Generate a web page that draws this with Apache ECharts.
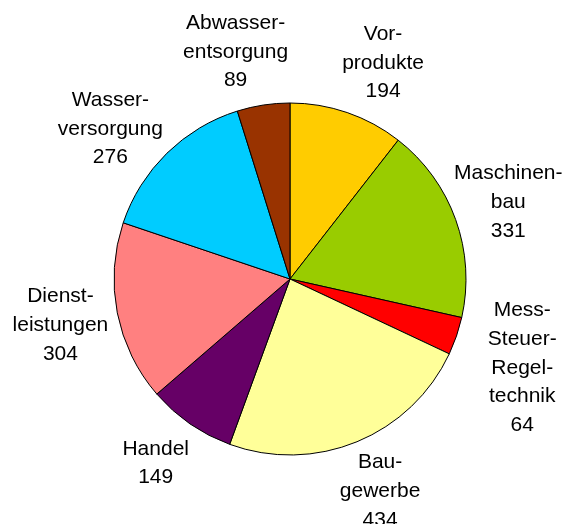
<!DOCTYPE html>
<html><head><meta charset="utf-8">
<script src="https://cdn.jsdelivr.net/npm/echarts@6/dist/echarts.min.js"></script>
<style>html,body{margin:0;padding:0;background:#fff}#c{width:568px;height:524px}</style>
</head><body><div id="c"></div>
<script>
const categories = ['Vor-\nprodukte','Maschinen-\nbau','Mess-\nSteuer-\nRegel-\ntechnik','Bau-\ngewerbe','Handel','Dienst-\nleistungen','Wasser-\nversorgung','Abwasser-\nentsorgung'];
const values = [194, 331, 64, 434, 149, 304, 276, 89];
const colors = ['#FFCC00','#99CC00','#FF0000','#FFFF99','#660066','#FF8080','#00CCFF','#993300'];

// layout / style (not data)
const CENTER = [290, 279];
const RADIUS = 176;
const LABEL_NUDGE = [[17,5],[-2,2],[-1,9],[1,-4],[-5,-3],[0,1],[-16,17],[-19,4]];

const chart = echarts.init(document.getElementById('c'));
const total = values.reduce((a, b) => a + b, 0);
chart.setOption({
  animation: false,
  backgroundColor: '#fff',
  series: [{
    type: 'pie',
    center: CENTER,
    radius: RADIUS,
    startAngle: 90,
    clockwise: true,
    avoidLabelOverlap: false,
    data: categories.map((n, i) => ({name: n, value: values[i], itemStyle: {color: colors[i]}})),
    itemStyle: {borderColor: '#000', borderWidth: 1},
    emphasis: {disabled: true},
    label: {
      show: true,
      position: 'outside',
      formatter: '{b}\n{c}',
      fontFamily: '"Liberation Sans", Arial, sans-serif',
      fontSize: 21,
      lineHeight: 28.7,
      color: '#000',
      align: 'center'
    },
    labelLine: {show: false},
    labelLayout: function (p) {
      let cum = 0;
      for (let i = 0; i < p.dataIndex; i++) cum += values[i];
      const mid = (cum + values[p.dataIndex] / 2) / total * 2 * Math.PI;
      const R = RADIUS + 39 + 0.22 * p.labelRect.height;
      const n = LABEL_NUDGE[p.dataIndex];
      return {
        x: CENTER[0] + R * Math.sin(mid) + n[0],
        y: CENTER[1] - R * Math.cos(mid) + n[1],
        align: 'center',
        verticalAlign: 'middle'
      };
    }
  }]
});
</script>
</body></html>
